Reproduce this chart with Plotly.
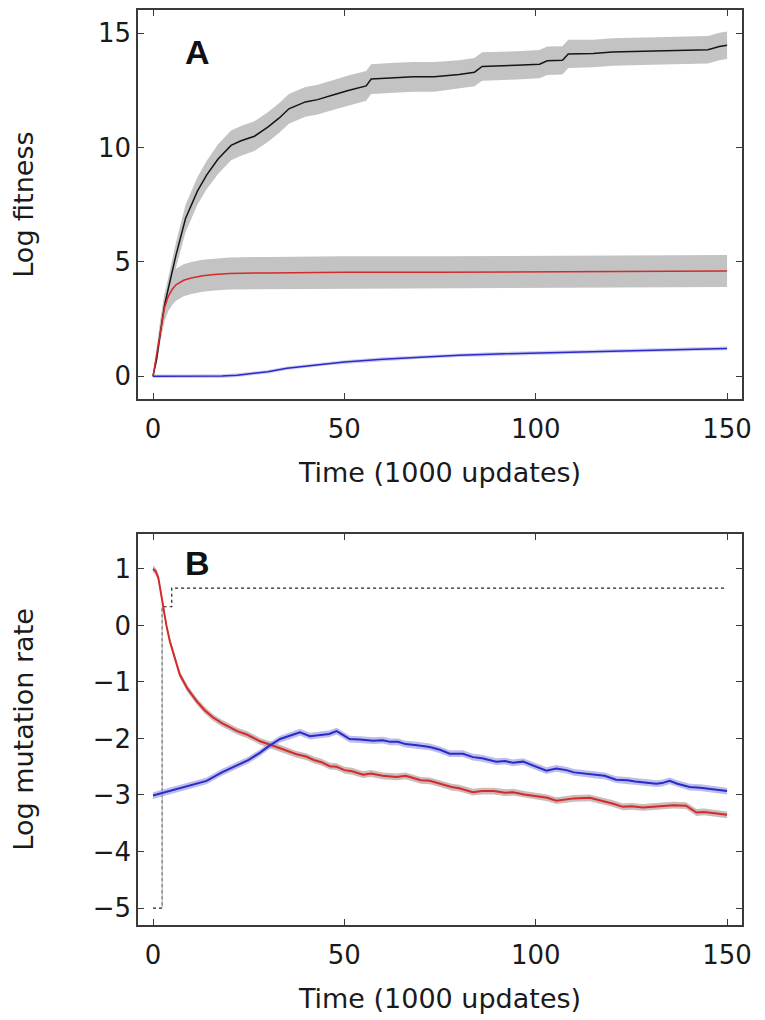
import plotly.graph_objects as go
from plotly.subplots import make_subplots

# ---------------- Panel A: Log fitness ----------------
blk_x = [0, 1, 2, 3, 4.5, 6, 8.5, 11.6, 14, 17, 20.4, 23, 26.5, 30, 33, 35.5, 39.8, 43, 47, 51, 55.7, 57,
         62, 68, 73.5, 80, 84, 86, 95, 101, 103, 107, 108.5, 115, 120, 130, 140, 145, 148, 150]
blk_y = [0, 0.8, 2.0, 3.1, 4.2, 5.3, 6.9, 8.1, 8.8, 9.5, 10.1, 10.3, 10.5, 10.9, 11.3, 11.7, 12.0, 12.1, 12.3,
         12.5, 12.7, 13.0, 13.05, 13.1, 13.1, 13.2, 13.3, 13.55, 13.6, 13.65, 13.8, 13.82, 14.1, 14.12, 14.18,
         14.22, 14.25, 14.28, 14.42, 14.48]
blk_sd = [0, 0.25, 0.35, 0.45, 0.5, 0.55, 0.6, 0.6, 0.62, 0.65, 0.65, 0.65, 0.65, 0.65, 0.65, 0.65, 0.65, 0.65,
          0.65, 0.65, 0.65, 0.65, 0.65, 0.65, 0.65, 0.62, 0.62, 0.62, 0.62, 0.62, 0.62, 0.62, 0.62, 0.6, 0.6,
          0.6, 0.6, 0.6, 0.6, 0.6]

redA_x = [0, 1, 2, 3, 4, 5, 6, 8, 10, 13, 16, 20, 30, 50, 75, 100, 125, 150]
redA_y = [0, 1.0, 2.1, 3.0, 3.5, 3.8, 4.0, 4.2, 4.3, 4.4, 4.45, 4.5, 4.52, 4.55, 4.55, 4.57, 4.58, 4.6]
redA_sd = [0, 0.3, 0.5, 0.6, 0.65, 0.68, 0.7, 0.7, 0.7, 0.7, 0.7, 0.7, 0.7, 0.7, 0.7, 0.7, 0.7, 0.7]

bluA_x = [0, 10, 18, 22, 25, 30, 35, 40, 45, 50, 60, 70, 80, 90, 100, 110, 120, 130, 140, 150]
bluA_y = [0, 0, 0.01, 0.05, 0.1, 0.2, 0.35, 0.45, 0.55, 0.62, 0.75, 0.85, 0.92, 0.98, 1.02, 1.06, 1.1, 1.13,
          1.17, 1.22]
bluA_sd = 0.08

# ---------------- Panel B: Log mutation rate ----------------
redB_x = [0, 0.7, 1.4, 2.0, 2.7, 3.5, 4.4, 5.5, 7, 9, 11.4, 13.5, 15.7, 18, 20, 22, 24.5, 28, 32.3, 35, 37.5,
          40, 42, 44, 46.2, 48, 50, 52, 54.9, 57, 60, 63.6, 66, 68, 70, 72.3, 75, 78, 80, 83.6, 86, 89, 92,
          94.1, 97, 100, 103, 105.4, 108, 110, 114.1, 116, 118, 120, 122.8, 125, 128, 131, 133.2, 136, 139.3,
          142, 144, 146, 148, 150]
redB_y = [1.0, 0.96, 0.84, 0.6, 0.31, 0.0, -0.28, -0.55, -0.87, -1.12, -1.34, -1.5, -1.63, -1.73, -1.8, -1.87,
          -1.93, -2.05, -2.15, -2.22, -2.28, -2.32, -2.38, -2.42, -2.49, -2.5, -2.56, -2.58, -2.64, -2.62, -2.66,
          -2.68, -2.66, -2.7, -2.74, -2.75, -2.8, -2.86, -2.88, -2.95, -2.93, -2.93, -2.96, -2.95, -2.99, -3.02,
          -3.05, -3.1, -3.08, -3.06, -3.05, -3.08, -3.12, -3.15, -3.21, -3.2, -3.22, -3.2, -3.19, -3.18, -3.19,
          -3.31, -3.3, -3.32, -3.33, -3.35]
redB_sd = 0.06

bluB_x = [0, 7, 14, 18, 22.7, 25, 28, 30, 33.2, 36, 38.4, 41, 44, 46, 48, 49.5, 51.4, 54, 57.5, 60, 62, 64, 66,
          69, 72.3, 75, 77.5, 81, 83.6, 86, 89.7, 92, 94, 96.7, 100, 102.8, 105.4, 108, 110, 113, 115.8, 118,
          121, 124, 126, 129, 131.5, 133, 135, 137, 140.2, 143, 145, 147, 150]
bluB_y = [-3.01, -2.88, -2.75, -2.6, -2.45, -2.38, -2.25, -2.15, -2.01, -1.95, -1.89, -1.96, -1.93, -1.92,
          -1.87, -1.93, -2.01, -2.02, -2.04, -2.03, -2.06, -2.06, -2.1, -2.12, -2.15, -2.2, -2.27, -2.27, -2.33,
          -2.35, -2.41, -2.4, -2.43, -2.41, -2.5, -2.57, -2.53, -2.56, -2.6, -2.62, -2.65, -2.66, -2.73, -2.74,
          -2.76, -2.78, -2.8, -2.79, -2.75, -2.8, -2.86, -2.87, -2.89, -2.9, -2.93]
bluB_sd = 0.06

step_x = [0, 2.4, 4.9, 150]
step_y = [-5, 0.33, 0.66, 0.66]

xticks = [0, 50, 100, 150]
yticksA = [0, 5, 10, 15]
yticksB = [1, 0, -1, -2, -3, -4, -5]

FONT = "DejaVu Sans"
AX = "#3a3a3a"
TXT = "#1a1a1a"


def band(x, y, sd):
    sds = sd if isinstance(sd, list) else [sd] * len(x)
    up = [a + s for a, s in zip(y, sds)]
    lo = [a - s for a, s in zip(y, sds)]
    return x + x[::-1], up + lo[::-1]


fig = make_subplots(rows=2, cols=1)

# Panel A bands and lines
for (x, y, sd, fc) in [(blk_x, blk_y, blk_sd, "rgba(195,195,195,1)"),
                       (redA_x, redA_y, redA_sd, "rgba(195,195,195,1)"),
                       (bluA_x, bluA_y, bluA_sd, "rgba(170,170,230,0.6)")]:
    bx, by = band(x, y, sd)
    fig.add_trace(go.Scatter(x=bx, y=by, fill="toself", fillcolor=fc, line=dict(width=0),
                             mode="lines", hoverinfo="skip", showlegend=False), row=1, col=1)
fig.add_trace(go.Scatter(x=blk_x, y=blk_y, mode="lines", line=dict(color="#151515", width=1.5),
                         showlegend=False), row=1, col=1)
fig.add_trace(go.Scatter(x=redA_x, y=redA_y, mode="lines", line=dict(color="#d42a2a", width=1.5),
                         showlegend=False), row=1, col=1)
fig.add_trace(go.Scatter(x=bluA_x, y=bluA_y, mode="lines", line=dict(color="#2a2ac8", width=1.5),
                         showlegend=False), row=1, col=1)

# Panel B
fig.add_trace(go.Scatter(x=step_x, y=step_y, mode="lines", line=dict(color="#222222", width=1.2, dash="dot",
                         shape="hv"), showlegend=False), row=2, col=1)
fig.add_trace(go.Scatter(x=[step_x[1], step_x[1]], y=[step_y[0], step_y[1]], mode="lines",
                         line=dict(color="#b0b0b0", width=1), showlegend=False), row=2, col=1)
for (x, y, sd, fc) in [(redB_x, redB_y, redB_sd, "rgba(190,170,170,0.8)"),
                       (bluB_x, bluB_y, bluB_sd, "rgba(160,160,230,0.7)")]:
    bx, by = band(x, y, sd)
    fig.add_trace(go.Scatter(x=bx, y=by, fill="toself", fillcolor=fc, line=dict(width=0),
                             mode="lines", hoverinfo="skip", showlegend=False), row=2, col=1)
fig.add_trace(go.Scatter(x=redB_x, y=redB_y, mode="lines", line=dict(color="#d42a2a", width=2),
                         showlegend=False), row=2, col=1)
fig.add_trace(go.Scatter(x=bluB_x, y=bluB_y, mode="lines", line=dict(color="#2a2ac8", width=2),
                         showlegend=False), row=2, col=1)

axis_common = dict(showline=True, linecolor=AX, linewidth=1.5, mirror="ticks", ticks="inside",
                   ticklen=6, tickcolor=AX, tickwidth=1.2, showgrid=False, zeroline=False,
                   tickfont=dict(family=FONT, size=26, color=TXT))

fig.update_layout(
    width=765, height=1020,
    margin=dict(l=130, r=31, t=0, b=103),
    paper_bgcolor="white", plot_bgcolor="white",
    xaxis=dict(domain=[0, 1], range=[-3.92, 153.9], tickvals=xticks, anchor="y", ticklabelstandoff=6,
               title=dict(text="Time (1000 updates)", font=dict(family=FONT, size=27, color=TXT),
                          standoff=20), **axis_common),
    yaxis=dict(domain=[0.5747, 1.0], range=[-1.0, 16.02], tickvals=yticksA, anchor="x",
               title=dict(text="Log fitness", font=dict(family=FONT, size=27, color=TXT),
                          standoff=58), **axis_common),
    xaxis2=dict(domain=[0, 1], range=[-3.92, 153.9], tickvals=xticks, anchor="y2", ticklabelstandoff=6,
                title=dict(text="Time (1000 updates)", font=dict(family=FONT, size=27, color=TXT),
                           standoff=20), **axis_common),
    yaxis2=dict(domain=[0.0, 0.4275], range=[-5.3, 1.62], tickvals=yticksB, anchor="x2",
                tickformat="d",
                title=dict(text="Log mutation rate", font=dict(family=FONT, size=27, color=TXT),
                           standoff=52), **axis_common),
    annotations=[
        dict(x=11.5, y=14.2, xref="x", yref="y", text="<b>A</b>", showarrow=False,
             font=dict(family="Liberation Sans", size=34, color="#111111")),
        dict(x=11.5, y=1.1, xref="x2", yref="y2", text="<b>B</b>", showarrow=False,
             font=dict(family="Liberation Sans", size=34, color="#111111")),
    ],
)

fig.write_html("out.html")
